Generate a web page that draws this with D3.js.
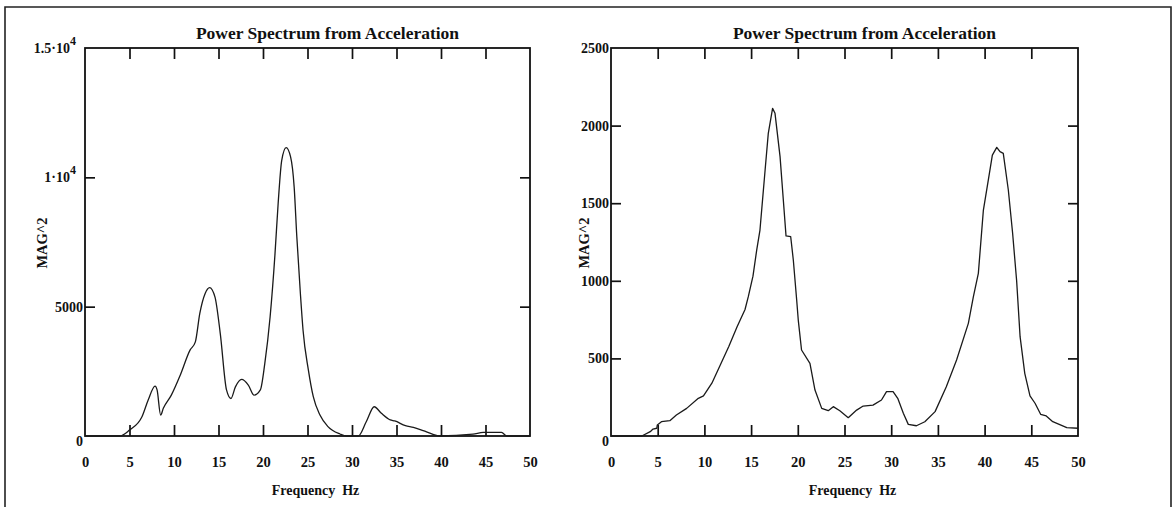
<!DOCTYPE html>
<html>
<head>
<meta charset="utf-8">
<script src="https://cdn.jsdelivr.net/npm/d3@7"></script>
<style>
  body { margin: 0; background: #fff; }
  text { font-family: "Liberation Serif", "Times New Roman", serif; fill: #111; }
</style>
</head>
<body>
<div id="chart"></div>
<script>
// values
var leftFreq = [0, 3.9, 5.0, 6.4, 7.1, 7.87, 8.1, 8.5, 8.8, 9.7, 10.7, 11.8, 12.4, 12.9, 13.5, 14.0, 14.6, 15.2,
  15.9, 16.4, 16.9, 17.6, 18.35, 19.0, 19.7, 20.2, 20.8, 21.35, 21.7, 22.1, 22.6, 23.1, 23.5, 23.8, 24.2, 24.5,
  25.1, 25.65, 26.4, 27.3, 28.65, 29.4, 30.7, 31.6, 32.5, 33.3, 34.3, 34.8, 36.0, 36.9, 38.0, 39.1, 39.8, 43.6,
  44.75, 46.8, 47.4, 50];
var leftMag = [0, 0, 230, 745, 1390, 1930, 1780, 810, 1070, 1580, 2350, 3320, 3640, 4740, 5510, 5740, 5380, 3960,
  1780, 1450, 1900, 2190, 1970, 1580, 1780, 2800, 4610, 7050, 8980, 10650, 11150, 10790, 9630, 7700, 5510, 4090,
  2550, 1520, 810, 360, 77, 0, 0, 550, 1130, 875, 620, 580, 400, 335, 206, 64, 0, 70,
  140, 140, 0, 0];

var rightFreq = [0, 3.3, 4.2, 4.5, 4.9, 4.96, 5.4, 6.3, 7.0, 8.1, 9.35, 9.9, 10.8, 11.7, 12.6, 13.5, 14.35, 14.7,
  15.2, 15.6, 15.95, 16.5, 16.84, 17.3, 17.56, 18.1, 18.45, 18.74, 19.24, 19.52, 19.88, 20.05, 20.4, 21.3, 21.84,
  22.56, 23.26, 23.8, 24.5, 25.4, 26.3, 27.0, 28.05, 28.96, 29.5, 30.2, 30.7, 31.3, 31.83, 32.7, 33.6, 34.7, 35.9,
  37.0, 38.26, 38.8, 39.33, 39.87, 40.4, 40.83, 41.3, 41.65, 42.0, 42.54, 43.0, 43.43, 43.8, 44.3, 44.86, 45.4,
  46.0, 46.6, 47.3, 48.8, 50];
var rightMag = [0, 0, 28, 45, 50, 71, 92, 99, 135, 178, 243, 258, 340, 457, 575, 704, 815, 898,
  1030, 1198, 1327, 1714, 1950, 2111, 2079, 1800, 1521, 1289, 1284, 1134, 876, 747, 554, 468, 296,
  178, 163, 189, 163, 118, 167, 193, 199, 232, 286, 286, 243, 146, 75, 66, 92, 157, 318,
  490, 726, 898, 1048, 1456, 1650, 1810, 1860, 1832, 1821, 1585, 1306, 1000, 640, 404, 258, 211,
  140, 129, 92, 54, 50];

var xTickVals = [0, 5, 10, 15, 20, 25, 30, 35, 40, 45, 50];
var leftYTickVals = [0, 5000, 10000, 15000];
var leftYTickText = ["0", "5000", "1\u00b710", "1.5\u00b710"];
var leftYTickExp = ["", "", "4", "4"];
var rightYTickVals = [0, 500, 1000, 1500, 2000, 2500];
var rightYTickText = ["0", "500", "1000", "1500", "2000", "2500"];

var titleText = "Power Spectrum from Acceleration";
var xLabel = "Frequency  Hz";
var yLabel = "MAG^2";

var W = 1174, H = 507;
var ink = "#111";

var svg = d3.select("#chart").append("svg")
  .attr("width", W)
  .attr("height", H);

// scanned page border
svg.append("path")
  .attr("d", "M5,507 L5,7 L1171,7 L1171,507")
  .attr("fill", "none")
  .attr("stroke", "#222")
  .attr("stroke-width", 1.6);

function draw_panel(opt) {
  var x = d3.scaleLinear().domain([0, 50]).range([opt.left, opt.right]);
  var y = d3.scaleLinear().domain([0, opt.ymax]).range([opt.bottom, opt.top]);
  var g = svg.append("g");

  // plot box
  g.append("rect")
    .attr("x", opt.left)
    .attr("y", opt.top)
    .attr("width", opt.right - opt.left)
    .attr("height", opt.bottom - opt.top)
    .attr("fill", "none")
    .attr("stroke", ink)
    .attr("stroke-width", 1.8);

  var inner = xTickVals.slice(1, -1);
  var innerY = opt.yVals.slice(1, -1);

  // inward ticks on all four sides
  var tb = g.append("g").attr("transform", "translate(0," + opt.bottom + ")")
    .call(d3.axisBottom(x).tickValues(inner).tickSize(-11).tickFormat(""));
  var tt = g.append("g").attr("transform", "translate(0," + opt.top + ")")
    .call(d3.axisTop(x).tickValues(inner).tickSize(-11).tickFormat(""));
  var tl = g.append("g").attr("transform", "translate(" + opt.left + ",0)")
    .call(d3.axisLeft(y).tickValues(innerY).tickSize(-10).tickFormat(""));
  var tr = g.append("g").attr("transform", "translate(" + opt.right + ",0)")
    .call(d3.axisRight(y).tickValues(innerY).tickSize(-10).tickFormat(""));
  [tb, tt, tl, tr].forEach(function(a) {
    a.select(".domain").remove();
    a.selectAll("line").attr("stroke", ink).attr("stroke-width", 1.7);
  });

  // x tick labels
  var xl = g.append("g").attr("transform", "translate(0," + opt.bottom + ")")
    .call(d3.axisBottom(x).tickValues(xTickVals).tickSize(0).tickPadding(31));
  xl.select(".domain").remove();
  xl.selectAll("text")
    .attr("font-size", 14.5)
    .attr("font-weight", "bold")
    .attr("fill", ink)
    .attr("dy", "0");

  // y tick labels (with superscript exponents where needed)
  var yl = g.selectAll(".ylab")
    .data(opt.yVals)
    .enter().append("text")
    .attr("class", "ylab")
    .attr("x", function(d, i) { return opt.left - (opt.yExp[i] ? 9 : 2); })
    .attr("y", function(d) { return y(d) + (d === 0 ? 10 : 5); })
    .attr("text-anchor", "end")
    .attr("font-size", 14)
    .attr("font-weight", "bold");
  yl.append("tspan").text(function(d, i) { return opt.yText[i]; });
  yl.append("tspan")
    .attr("dy", -8)
    .attr("font-size", 12)
    .text(function(d, i) { return opt.yExp[i]; });

  // title and axis titles
  g.append("text")
    .attr("x", (opt.left + opt.right) / 2 + 20)
    .attr("y", 39)
    .attr("text-anchor", "middle")
    .attr("font-size", 17.5)
    .attr("font-weight", "bold")
    .text(titleText);

  g.append("text")
    .attr("x", (opt.left + opt.right) / 2 + 8)
    .attr("y", 495)
    .attr("text-anchor", "middle")
    .attr("font-size", 14)
    .attr("font-weight", "bold")
    .attr("xml:space", "preserve")
    .text(xLabel);

  g.append("text")
    .attr("transform", "translate(" + opt.yLabelX + ",243) rotate(-90)")
    .attr("text-anchor", "middle")
    .attr("font-size", 14.5)
    .attr("font-weight", "bold")
    .text(yLabel);

  // spectrum curve
  var line = d3.line()
    .x(function(d) { return x(d[0]); })
    .y(function(d) { return y(d[1]); })
    .curve(opt.curve);

  g.append("path")
    .datum(d3.zip(opt.freq, opt.mag))
    .attr("d", line)
    .attr("fill", "none")
    .attr("stroke", "#1a1a1a")
    .attr("stroke-width", 1.3)
    .attr("stroke-linejoin", "round");
}

draw_panel({
  left: 85, right: 530, top: 48, bottom: 436,
  ymax: 15000,
  yVals: leftYTickVals, yText: leftYTickText, yExp: leftYTickExp,
  yLabelX: 47,
  freq: leftFreq, mag: leftMag,
  curve: d3.curveMonotoneX
});

draw_panel({
  left: 611, right: 1078, top: 48, bottom: 436,
  ymax: 2500,
  yVals: rightYTickVals, yText: rightYTickText, yExp: rightYTickVals.map(function() { return ""; }),
  yLabelX: 589,
  freq: rightFreq, mag: rightMag,
  curve: d3.curveLinear
});
</script>
</body>
</html>
